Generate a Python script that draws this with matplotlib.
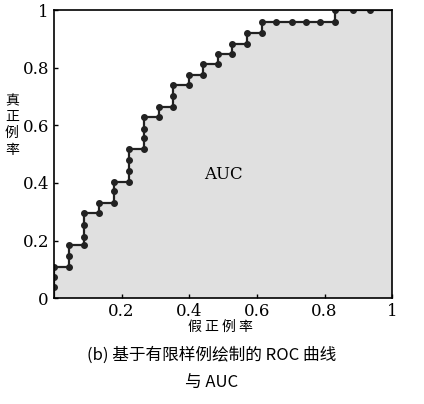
import matplotlib
matplotlib.use("Agg")
import matplotlib.pyplot as plt
import numpy as np

fpr = [0, 0, 0, 0, .0446, .0446, .0446, .089, .089, .089, .089, .134, .134, .178, .178, .178,
       .223, .223, .223, .223, .267, .267, .267, .267, .312, .312, .351, .351, .351,
       .398, .398, .441, .441, .485, .485, .527, .527, .572, .572, .614, .614,
       .658, .703, .745, .787, .832, .832, .883, .933]
tpr = [0, .04, .075, .108, .108, .146, .183, .183, .212, .255, .296, .296, .33, .33, .372, .402,
       .402, .442, .479, .518, .518, .556, .588, .629, .629, .664, .664, .702, .739,
       .739, .774, .774, .812, .812, .849, .849, .884, .884, .919, .919, .959,
       .959, .959, .959, .959, .959, 1.0, 1.0, 1.0]

fig = plt.figure(figsize=(4.24, 4.04), dpi=100)
ax = fig.add_axes([0.127, 0.262, 0.798, 0.713])
xs = fpr + [1.0]
ys = tpr + [1.0]
ax.fill_between(xs, ys, 0, color='#e0e0e0', lw=0)
ax.plot(xs, ys, color='#222222', lw=1.6)
ax.plot(fpr[1:], tpr[1:], 'o', color='#222222', ms=4)
ax.set_xlim(0, 1); ax.set_ylim(0, 1)
ax.set_xticks([0.2, 0.4, 0.6, 0.8, 1.0]); ax.set_xticklabels(['0.2', '0.4', '0.6', '0.8', '1'])
ax.set_yticks([0, 0.2, 0.4, 0.6, 0.8, 1.0]); ax.set_yticklabels(['0', '0.2', '0.4', '0.6', '0.8', '1'])
for lab in ax.get_xticklabels() + ax.get_yticklabels():
    lab.set_fontfamily('DejaVu Serif'); lab.set_fontsize(12)
ax.tick_params(direction='in', length=3, width=1)
for s in ax.spines.values():
    s.set_linewidth(1.2)
ax.text(0.5, 0.43, 'AUC', ha='center', va='center', fontsize=12, family='DejaVu Serif')
cjk = ['Noto Sans CJK SC', 'DejaVu Sans']
fig.text(0.028, 0.69, '真\n正\n例\n率', ha='center', va='center', fontsize=10, family=cjk, linespacing=1.2)
fig.text(0.52, 0.192, '假 正 例 率', ha='center', va='center', fontsize=10, family=cjk)
fig.text(0.5, 0.12, '(b) 基于有限样例绘制的 ROC 曲线', ha='center', va='center', fontsize=12, family=cjk, weight='medium')
fig.text(0.5, 0.052, '与 AUC', ha='center', va='center', fontsize=12, family=cjk, weight='medium')
fig.savefig('out.png', dpi=100)
